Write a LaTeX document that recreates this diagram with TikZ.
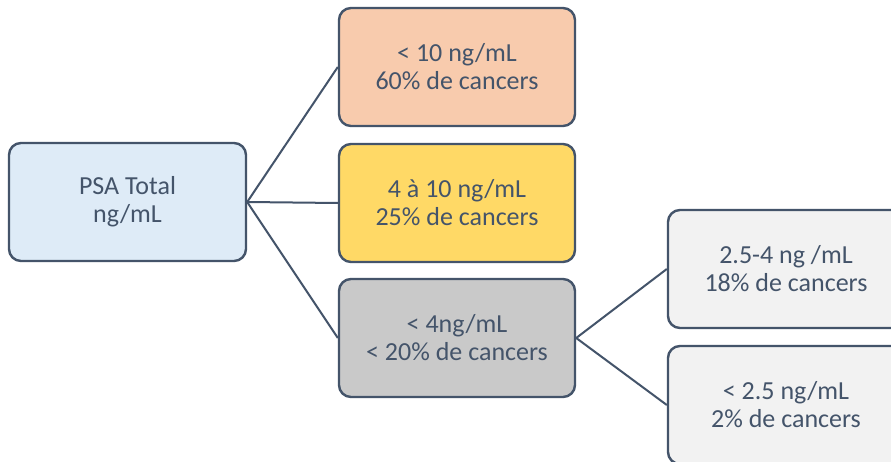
\documentclass[tikz,border=0pt]{standalone}
\usepackage{fontspec}
\setmainfont{Carlito}
\definecolor{edge}{HTML}{44546A}
\definecolor{fpsa}{HTML}{DEEBF7}
\definecolor{forange}{HTML}{F8CBAD}
\definecolor{fyellow}{HTML}{FFD966}
\definecolor{fgray}{HTML}{C9C9C9}
\definecolor{flight}{HTML}{F2F2F2}
\tikzset{
  box/.style={draw=edge, line width=2.4pt, rounded corners=12pt,
    minimum width=236pt, minimum height=118pt, inner sep=0pt,
    align=center, text=edge, font=\fontsize{26}{28}\selectfont},
  link/.style={draw=edge, line width=2pt}
}
\begin{document}
\begin{tikzpicture}[x=1pt,y=-1pt]
\useasboundingbox (0,0) rectangle (891,462);
\clip (0,0) rectangle (891,462);
\fill[white] (0,0) rectangle (891,462);
\node[box, fill=fpsa, minimum width=237pt] (psa) at (127.5,202) {PSA Total\\ng/mL};
\node[box, fill=forange] (b1) at (457,67) {< 10 ng/mL\\60\% de cancers};
\node[box, fill=fyellow] (b2) at (457,203) {4 à 10 ng/mL\\25\% de cancers};
\node[box, fill=fgray] (b3) at (457,338) {< 4ng/mL\\< 20\% de cancers};
\node[box, fill=flight] (b4) at (786,269) {2.5-4 ng /mL\\18\% de cancers};
\node[box, fill=flight] (b5) at (786,405) {< 2.5 ng/mL\\2\% de cancers};
\draw[link] (psa.east) -- (b1.west);
\draw[link] (psa.east) -- (b2.west);
\draw[link] (psa.east) -- (b3.west);
\draw[link] (b3.east) -- (b4.west);
\draw[link] (b3.east) -- (b5.west);
\end{tikzpicture}
\end{document}
